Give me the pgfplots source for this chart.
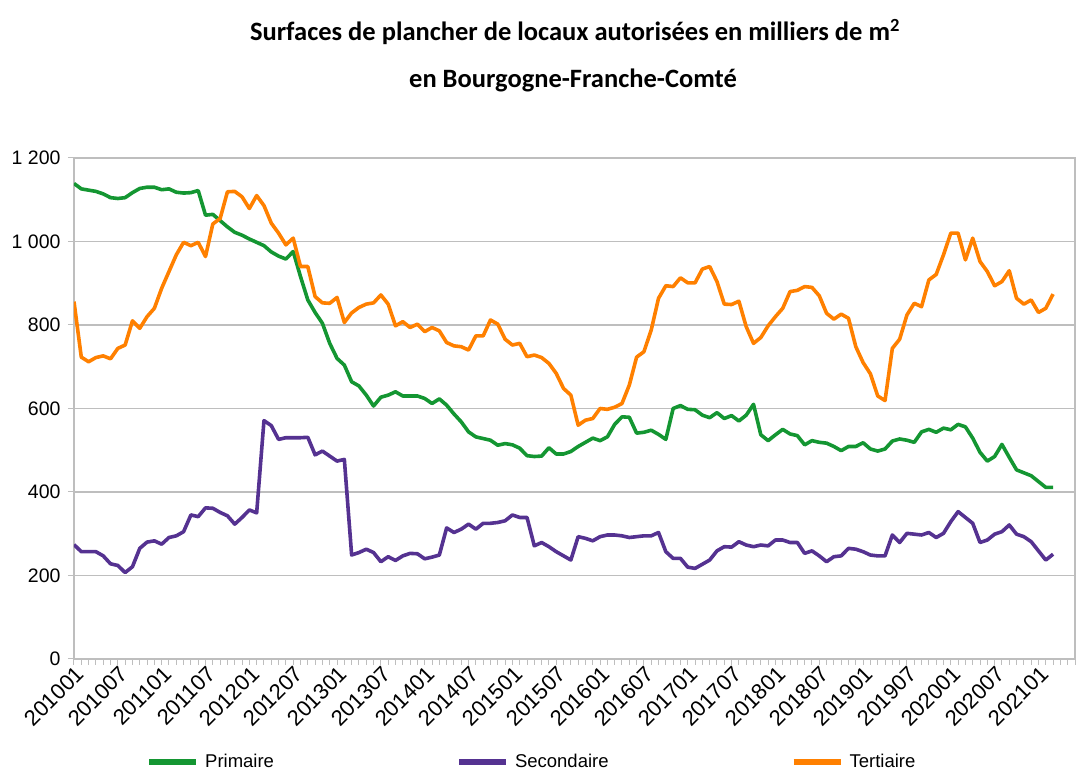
\documentclass[border=0pt]{standalone}
\usepackage{fontspec}
\setmainfont{Liberation Sans}
\newfontfamily\titlefont{Carlito}
\usepackage{pgfplots}
\usepackage{pgfplotstable}
\pgfplotsset{compat=1.18}
\definecolor{cprim}{RGB}{20,150,50}
\definecolor{csec}{RGB}{85,50,145}
\definecolor{cter}{RGB}{255,128,0}
\definecolor{cgrid}{RGB}{190,190,190}

\pgfplotstableread{
m prim sec ter
0 1139 274 856
1 1126 257 723
2 1123 257 712
3 1120 257 722
4 1114 247 726
5 1105 228 719
6 1103 224 744
7 1105 207 752
8 1117 221 810
9 1127 265 792
10 1130 280 820
11 1130 283 840
12 1124 275 888
13 1126 291 928
14 1118 295 968
15 1116 305 998
16 1117 345 990
17 1122 341 998
18 1063 362 964
19 1065 361 1042
20 1050 351 1055
21 1035 343 1119
22 1022 323 1120
23 1015 339 1107
24 1006 357 1079
25 998 350 1110
26 990 571 1086
27 975 559 1044
28 965 526 1020
29 958 530 992
30 976 530 1008
31 916 530 940
32 860 531 940
33 830 489 868
34 804 498 853
35 756 486 852
36 720 474 866
37 704 478 806
38 664 249 829
39 654 255 842
40 632 263 850
41 606 255 853
42 627 233 872
43 632 245 850
44 640 236 798
45 630 247 808
46 630 253 794
47 630 252 802
48 624 240 784
49 612 244 794
50 623 249 786
51 608 314 758
52 587 303 750
53 568 311 748
54 544 323 740
55 532 311 774
56 528 325 774
57 524 325 812
58 512 327 802
59 516 331 766
60 513 345 752
61 505 339 756
62 487 339 724
63 485 271 728
64 486 279 722
65 506 269 708
66 491 257 684
67 491 247 648
68 497 237 632
69 509 293 560
70 519 289 572
71 529 283 576
72 523 293 600
73 532 297 598
74 562 297 603
75 580 295 612
76 579 291 656
77 541 293 723
78 543 295 736
79 548 295 788
80 538 303 864
81 526 257 894
82 600 241 892
83 607 241 913
84 598 220 901
85 597 217 901
86 584 227 934
87 578 237 940
88 590 259 904
89 576 269 850
90 583 268 849
91 570 281 857
92 584 273 796
93 610 269 756
94 537 273 770
95 523 271 798
96 537 285 820
97 550 285 840
98 539 279 880
99 535 279 883
100 513 253 892
101 523 259 890
102 519 247 870
103 517 233 828
104 509 245 814
105 499 247 826
106 509 265 816
107 509 263 748
108 518 257 710
109 503 249 683
110 498 247 630
111 503 247 619
112 522 297 744
113 527 279 766
114 524 301 824
115 519 299 852
116 544 297 844
117 550 303 908
118 543 291 921
119 553 301 968
120 549 329 1020
121 562 353 1020
122 556 339 956
123 529 325 1008
124 495 279 952
125 474 285 928
126 485 299 894
127 514 305 904
128 483 321 930
129 453 299 864
130 446 293 850
131 439 281 860
132 425 259 830
133 411 237 840
134 411 251 874
}\data

\begin{document}
\begin{tikzpicture}[x=1pt,y=1pt]
\useasboundingbox (-74,-116) rectangle (1012,659);
\begin{axis}[
  at={(0,0)}, anchor=south west,
  scale only axis, width=1001pt, height=501pt,
  xmin=0, xmax=137, ymin=0, ymax=1200,
  axis line style={cgrid, line width=1.2pt},
  ytick={0,200,...,1200},
  yticklabels={0,200,400,600,800,1 000,1 200},
  xtick={0,6,...,132},
  xticklabels={201001,201007,201101,201107,201201,201207,201301,201307,201401,201407,201501,201507,201601,201607,201701,201707,201801,201807,201901,201907,202001,202007,202101},
  minor xtick={0,1,...,137},
  tick align=outside,
  major tick length=6pt, minor tick length=6pt,
  tick style={cgrid, line width=1pt},
  xtick pos=bottom, ytick pos=left,
  ymajorgrids, grid style={cgrid, line width=1.4pt},
  yticklabel style={font=\fontsize{19.5}{22}\selectfont, anchor=east, xshift=-4pt},
  xticklabel style={font=\fontsize{22}{25}\selectfont, rotate=45, anchor=east, xshift=4pt, yshift=-8pt},
  legend columns=3,
  legend style={at={(0.0719,-0.2056)}, anchor=west, draw=none, fill=none, inner sep=0pt,
    font=\fontsize{18.5}{22}\selectfont,
    /tikz/every odd column/.append style={column sep=4pt},
    /tikz/every even column/.append style={column sep=180pt}},
  legend image code/.code={\draw[#1, line width=6pt] (0pt,0pt) -- (47pt,0pt);},
  every axis plot/.append style={line width=3.6pt, line join=round, no marks},
]
\addplot[cprim] table[x=m, y=prim] {\data};
\addlegendentry{Primaire}
\addplot[csec] table[x=m, y=sec] {\data};
\addlegendentry{Secondaire}
\addplot[cter] table[x=m, y=ter] {\data};
\addlegendentry{Tertiaire}
\end{axis}
\node[font=\titlefont\bfseries\fontsize{26.5}{30}\selectfont] at (501,627) {Surfaces de plancher de locaux autorisées en milliers de m\textsuperscript{2}};
\node[font=\titlefont\bfseries\fontsize{26.5}{30}\selectfont] at (499,579) {en Bourgogne-Franche-Comté};
\end{tikzpicture}
\end{document}
